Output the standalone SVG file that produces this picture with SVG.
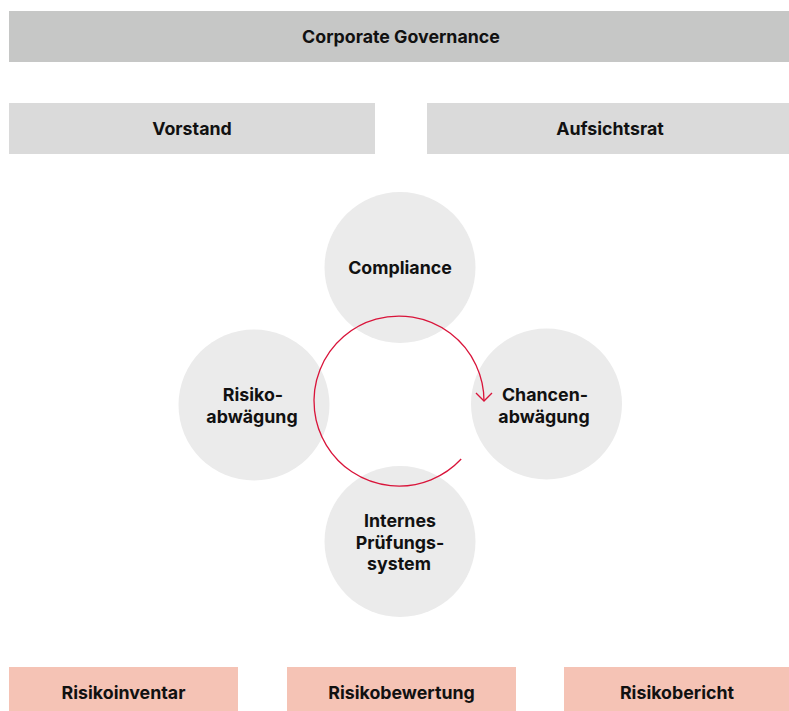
<svg xmlns="http://www.w3.org/2000/svg" width="789" height="711" viewBox="0 0 789 711">
<defs>
<style>
text{font-family:Inter,"Liberation Sans",sans-serif;font-weight:700;font-size:17.8px;fill:#111;text-anchor:middle}
.bar{fill:#c6c7c6}
.sub{fill:#dadada}
.circ{fill:#ebebeb}
.pink{fill:#f5c3b5}
.arc{fill:none;stroke:#d9143a;stroke-width:1.3}
</style>
<marker id="ah" markerWidth="20" markerHeight="20" refX="10" refY="10" orient="auto" markerUnits="userSpaceOnUse">
<path d="M2,2 L10,10 L2,18" fill="none" stroke="#d9143a" stroke-width="1.3"/>
</marker>
</defs>
<g id="corporate-governance"><rect class="bar" x="9" y="11" width="780" height="51"/><text x="401" y="43">Corporate Governance</text></g>
<g id="vorstand"><rect class="sub" x="9" y="103" width="366" height="51"/><text x="192" y="135">Vorstand</text></g>
<g id="aufsichtsrat"><rect class="sub" x="427" y="103" width="362" height="51"/><text x="610" y="135">Aufsichtsrat</text></g>
<g id="compliance"><circle class="circ" cx="400" cy="267.5" r="75.5"/><text x="400" y="274">Compliance</text></g>
<g id="risikoabwaegung"><circle class="circ" cx="254" cy="405" r="75.5"/><text x="253" y="401">Risiko-</text><text x="252" y="423">abwägung</text></g>
<g id="chancenabwaegung"><circle class="circ" cx="546.5" cy="404" r="75.5"/><text x="545" y="401">Chancen-</text><text x="544" y="423">abwägung</text></g>
<g id="internes-pruefungssystem"><circle class="circ" cx="400" cy="541.5" r="75.5"/><text x="400" y="527">Internes</text><text x="400" y="549">Prüfungs-</text><text x="399" y="570">system</text></g>
<g id="connectors"><path class="arc" d="M461.2,459 A85,85 0 1 1 484,401" marker-end="url(#ah)"/></g>
<g id="risikoinventar"><rect class="pink" x="9" y="667" width="229" height="44"/><text x="123.5" y="699">Risikoinventar</text></g>
<g id="risikobewertung"><rect class="pink" x="287" y="667" width="229" height="44"/><text x="401.5" y="699">Risikobewertung</text></g>
<g id="risikobericht"><rect class="pink" x="564" y="667" width="225" height="44"/><text x="677" y="699">Risikobericht</text></g>
</svg>
